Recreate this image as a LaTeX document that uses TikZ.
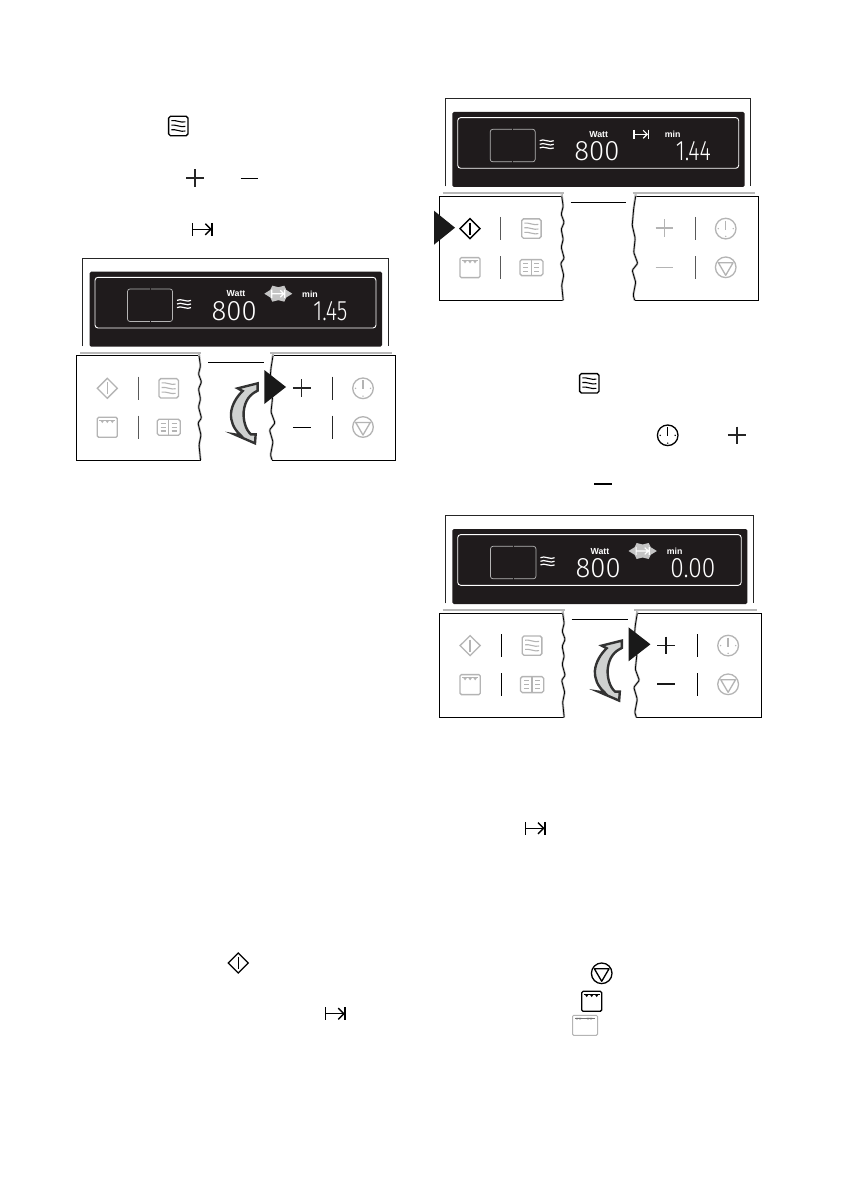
\documentclass[tikz,border=0pt]{standalone}
\usepackage{fontspec}
\setmainfont{Liberation Sans}
\newfontfamily\segfont[UprightFont={* Light}]{Fira Sans}
\definecolor{icg}{HTML}{B4B4B4}
\definecolor{lcdblack}{HTML}{1F1B1C}
\definecolor{burstg}{HTML}{C4C4C4}
\definecolor{edgeg}{HTML}{B8B8B8}
\definecolor{arrowg}{HTML}{CFD1D0}
\tikzset{
  frameline/.style={draw=black!85,line width=1pt},
  lcdtext/.style={text=white,inner sep=0pt,font=\fontsize{8.8}{9}\selectfont\bfseries},
  segtext/.style={text=white,inner sep=0pt},
  panelbar/.style={line width=1pt},
}
\newcommand\seg[3]{\resizebox{#1pt}{#2pt}{\segfont #3}}
\newcommand\icDiamond[3]{\begin{scope}[shift={(#1,#2)},line width=1.3pt,#3]
  \draw (-10,0)--(0,-10)--(10,0)--(0,10)--cycle; \draw (0,-6)--(0,6);
\end{scope}}
\newcommand\icMicro[3]{\begin{scope}[shift={(#1,#2)},line width=1.3pt,#3]
  \draw[rounded corners=1.8pt] (-9.7,-9.7) rectangle (9.7,9.7);
  \foreach \yy in {-4.6,0,4.6}{\draw[line width=1.1pt] (-7,\yy-0.8) .. controls (-3,\yy-1.8) and (3,\yy+1.8) .. (7,\yy+0.4);}
\end{scope}}
\newcommand\icOven[3]{\begin{scope}[shift={(#1,#2)},line width=1.3pt,#3]
  \draw[rounded corners=1.4pt] (-10,-10) rectangle (10,10);
  \draw[line width=0.7pt] (-8,-6.8)--(8,-6.8);
  \foreach \xx in {-5,0,5}{\fill (\xx-2,-7) -- (\xx+2,-7) -- (\xx,-4.2) -- cycle;}
\end{scope}}
\newcommand\icBook[3]{\begin{scope}[shift={(#1,#2)},line width=1.3pt,#3]
  \draw[rounded corners=1.8pt] (-11.5,-8) rectangle (11.5,8);
  \draw (0,-8)--(0,8);
  \foreach \yy in {-3.7,0,3.7}{\draw[line width=1.1pt] (-8,\yy)--(-3,\yy) (3,\yy)--(8,\yy);}
\end{scope}}
\newcommand\icClock[3]{\begin{scope}[shift={(#1,#2)},line width=1.3pt,#3]
  \draw (0,0) circle (10.3);
  \draw (0,-8)--(0,1);
  \foreach \a/\b in {-7.5/0,7.5/0,0/7.8}{\fill (\a,\b) circle (0.8);}
\end{scope}}
\newcommand\icDown[3]{\begin{scope}[shift={(#1,#2)},line width=1.3pt,#3]
  \draw (0,0) circle (10.3);
  \draw[line join=round] (-7.3,-4.5)--(7.3,-4.5)--(0,8)--cycle;
\end{scope}}
\newcommand\icPlus[4]{\begin{scope}[shift={(#1,#2)},line width=#4,#3]
  \draw (-8.8,0)--(8.8,0) (0,-8.8)--(0,8.8);
\end{scope}}
\newcommand\icMinus[4]{\begin{scope}[shift={(#1,#2)},line width=#4,#3]
  \draw (-8.8,0)--(8.8,0);
\end{scope}}
\newcommand\icSkip[3]{\begin{scope}[shift={(#1,#2)},line width=1.4pt,#3]
  \draw (-9.8,-6.5)--(-9.8,6.5) (9.8,-6.5)--(9.8,6.5);
  \draw (-9.8,0)--(8.6,0);
  \draw (3,-5.6)--(8.6,0)--(3,5.6);
\end{scope}}
\newcommand\icBurst[2]{\begin{scope}[shift={(#1,#2)}]
  \fill[burstg] (-14,0)--(-8,-3.8)--(-6,-8)--(0,-6.5)--(6,-8)--(8,-3.8)--(14,0)--(8,3.8)--(6,8)--(0,6.5)--(-6,8)--(-8,3.8)--cycle;
  \begin{scope}[line width=1.2pt,white]
    \draw (-6.5,-4.2)--(-6.5,4.2) (6.5,-4.2)--(6.5,4.2) (-6.5,0)--(5.5,0) (2,-3.4)--(5.5,0)--(2,3.4);
  \end{scope}
\end{scope}}
\newcommand\lcdWaves[2]{\begin{scope}[shift={(#1,#2)},white,line width=1.2pt]
  \foreach \yy in {-3.6,0,3.6}{\draw (-7,\yy) .. controls (-3.5,\yy-2.6) and (3.5,\yy+2.6) .. (7,\yy);}
\end{scope}}
\newcommand\curveArrow{\begin{scope}[shift={(195,355)},scale=0.3333]
  \draw[fill=arrowg,draw=black!80,line width=2.4pt,line join=miter]
   (188,85)--(188,107) .. controls (165,118) and (150,135) .. (146,170)
   .. controls (144,195) and (152,225) .. (168,238) --(182,238)--(180,265)--(118,238)--(137,241)
   .. controls (115,220) and (107,200) .. (108,175)
   .. controls (110,150) and (125,125) .. (143,108)--(128,100)--cycle;
\end{scope}}
\newcommand\panelBody{
  \draw[frameline] (82.7,346)--(82.7,258)--(388,258)--(388,346);
  \fill[lcdblack,rounded corners=1.5pt] (89.7,271.7) rectangle (382,346.7);
  \draw[white,line width=0.9pt,rounded corners=3pt] (95,277.3) rectangle (376,328);
  \draw[icg,line width=0.7pt,rounded corners=2.5pt] (127.5,289) rectangle (172.5,321.5);
  \draw[lcdblack,line width=1pt] (150,288)--(150,290) (150,320.5)--(150,322.5);
  \lcdWaves{184}{304}
  \draw[edgeg,line width=1.8pt] (80,353)--(201,353) (270,353)--(392,353);
  \draw[black,line width=0.9pt] (199,355.7)--(76.7,355.7)--(76.7,460)--(200.5,460);
  \draw[black,line width=0.9pt] (273,355.7)--(395.7,355.7)--(395.7,460)--(272,460);
  \draw[edgeg,line width=2.2pt,rounded corners=1pt] (199,354)--(200.5,366)--(198.5,374)--(201.5,382)--(198.5,389)--(200.5,399)--(198.5,407)--(201.5,418)--(198,423)--(201,435)--(199,445)--(200.5,460);
  \draw[black,line width=0.8pt,rounded corners=1pt] (199,356)--(200.5,366)--(198.5,374)--(201.5,382)--(198.5,389)--(200.5,399)--(198.5,407)--(201.5,418)--(198,423)--(201,435)--(199,445)--(200.5,460);
  \draw[edgeg,line width=2.2pt,rounded corners=1pt] (273,354)--(271,368)--(269.5,385)--(272.5,398)--(271,412)--(275,423)--(269.5,430)--(273,442)--(270.5,455)--(272,460);
  \draw[black,line width=0.8pt,rounded corners=1pt] (273,356)--(271,368)--(269.5,385)--(272.5,398)--(271,412)--(275,423)--(269.5,430)--(273,442)--(270.5,455)--(272,460);
  \draw[black,line width=1pt] (208,362.3)--(263.5,362.3);
}
\begin{document}
\begin{tikzpicture}[x=1pt,y=-1pt]
\useasboundingbox[fill=white] (0,0) rectangle (840,1190);

\icMicro{178.3}{126}{black}
\icPlus{195}{178.3}{black!85}{1.8pt}
\icMinus{249.5}{178.3}{black}{0.9pt}
\icSkip{202.3}{229.3}{black}
\icMicro{589.3}{383.3}{black}
\icClock{667.7}{435.3}{black}
\icPlus{736.7}{435.3}{black!85}{1.8pt}
\icMinus{603}{483.7}{black}{1.8pt}
\icSkip{535}{828.3}{black}
\icDiamond{238.3}{963}{black}
\icSkip{335.3}{1013.7}{black}
\icDown{601.7}{973.3}{black}
\icOven{591.7}{1001.3}{black}
\begin{scope}[shift={(585,1025.3)},icg,line width=1pt]
  \draw[rounded corners=1.2pt] (-12.5,-10) rectangle (12.5,10);
  \foreach \xx in {-8,-5,3,6}{\fill[black!70] (\xx-1.4,-7.4) -- (\xx+1.4,-7.4) -- (\xx,-5.6) -- cycle;}
  \draw[black!55,line width=0.5pt] (-10,-7.4)--(10,-7.4);
\end{scope}

\begin{scope}
  \panelBody
  \node[lcdtext] (watta) at (236,293.8) {Watt};
  \node[lcdtext] (mina) at (310,294.2) {min};
  \node[segtext] (powa) at (234.2,311.2) {\seg{45}{19}{800}};
  \node[segtext] (timea) at (330.4,311.2) {\seg{34}{19}{1.45}};
  \icBurst{278.3}{293.7}
  \icDiamond{107.3}{388.3}{icg}
  \draw[panelbar,black!65] (138,376.7)--(138,400) (138,415.7)--(138,439);
  \icMicro{168.7}{388.3}{icg}
  \icOven{107.3}{427.3}{icg}
  \icBook{168.7}{427.3}{icg}
  \curveArrow
  \fill[black!90] (264.3,370)--(286,387)--(264.3,404)--cycle;
  \icPlus{301.7}{388}{black!85}{1.5pt}
  \icMinus{301.7}{427}{black}{0.9pt}
  \draw[panelbar,black!85] (332.3,376.7)--(332.3,400) (332.3,415.7)--(332.3,439);
  \icClock{363}{388.3}{icg}
  \icDown{363}{427}{icg}
\end{scope}

\begin{scope}[shift={(362.7,-159.7)}]
  \panelBody
  \node[lcdtext] (wattb) at (236,293.8) {Watt};
  \node[lcdtext] (minb) at (310,294.2) {min};
  \node[segtext] (powb) at (234.2,311.2) {\seg{45}{19}{800}};
  \node[segtext] (timeb) at (330.7,311.2) {\seg{35}{19}{1.44}};
  \icSkip{278.3}{294}{white,line width=1.1pt,scale=0.72}
  \icDiamond{107.3}{388.3}{black}
  \draw[panelbar,black!65] (138,376.7)--(138,400) (138,415.7)--(138,439);
  \icMicro{168.7}{388.3}{icg}
  \icOven{107.3}{427.3}{icg}
  \icBook{168.7}{427.3}{icg}
  \fill[black!90] (71.3,370.4)--(92.3,387.4)--(71.3,404.4)--cycle;
  \icPlus{301.7}{388}{icg}{1.6pt}
  \icMinus{301.7}{427}{icg}{1.6pt}
  \draw[panelbar,black!65] (332.3,376.7)--(332.3,400) (332.3,415.7)--(332.3,439);
  \icClock{363}{388.3}{icg}
  \icDown{363}{427}{icg}
\end{scope}

\begin{scope}[shift={(445.3,515.3)},xscale=1.009,shift={(-82.7,-258)}]
  \panelBody
  \node[lcdtext] (wattc) at (236,293.8) {Watt};
  \node[lcdtext] (minc) at (310,294.2) {min};
  \node[segtext] (powc) at (234.2,311.2) {\seg{45}{19}{800}};
  \node[segtext] (timec) at (328,311.2) {\seg{45}{19}{0.00}};
  \icBurst{278.3}{293.7}
  \icDiamond{107.3}{388.3}{icg}
  \draw[panelbar,black] (138,376.7)--(138,400) (138,415.7)--(138,439);
  \icMicro{168.7}{388.3}{icg}
  \icOven{107.3}{427.3}{icg}
  \icBook{168.7}{427.3}{icg}
  \curveArrow
  \fill[black!90] (264.3,370)--(286,387)--(264.3,404)--cycle;
  \icPlus{301.7}{388}{black!90}{1.6pt}
  \icMinus{301.7}{427}{black!90}{1.8pt}
  \draw[panelbar,black] (332.3,376.7)--(332.3,400) (332.3,415.7)--(332.3,439);
  \icClock{363}{388.3}{icg}
  \icDown{363}{427}{icg}
\end{scope}
\end{tikzpicture}
\end{document}
